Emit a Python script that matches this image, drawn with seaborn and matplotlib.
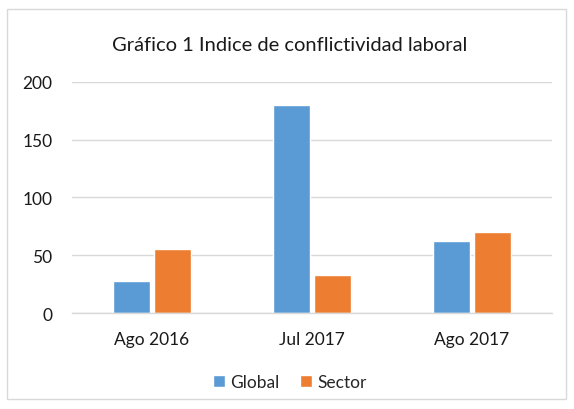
import pandas as pd
import matplotlib.pyplot as plt
import seaborn as sns
from matplotlib.patches import Rectangle

periods = ['Ago 2016', 'Jul 2017', 'Ago 2017']
global_vals = [28, 180, 62]
sector_vals = [55, 33, 70]
series = ['Global', 'Sector']
colors = ['#5B9BD5', '#ED7D31']

df = pd.DataFrame({
    'periodo': periods * 2,
    'serie': [series[0]] * 3 + [series[1]] * 3,
    'valor': global_vals + sector_vals,
})

sns.set_style('white')
plt.rcParams['font.family'] = ['Lato', 'DejaVu Sans']

fig = plt.figure(figsize=(5.74, 4.10), dpi=100)
ax = fig.add_axes([0.1254, 0.2341, 0.8362, 0.5641])

sns.barplot(data=df, x='periodo', y='valor', hue='serie', palette=colors,
            width=0.5125, gap=0.12, ax=ax, saturation=1)

ax.set_xlim(-0.5, 2.5)
ax.set_ylim(0, 200)
ax.set_yticks([0, 50, 100, 150, 200])
ax.yaxis.grid(True, color='#D9D9D9', linewidth=1)
ax.set_axisbelow(True)
for s in ['top', 'right', 'left']:
    ax.spines[s].set_visible(False)
ax.spines['bottom'].set_color('#D9D9D9')
ax.spines['bottom'].set_linewidth(1)
ax.set_xlabel('')
ax.set_ylabel('')
ax.tick_params(axis='y', length=0, pad=14, labelsize=12.5, labelcolor='#1a1a1a')
ax.tick_params(axis='x', length=0, pad=13, labelsize=12.5, labelcolor='#1a1a1a')

fig.text(0.505, 0.89, 'Gráfico 1 Indice de conflictividad laboral',
         ha='center', va='center', fontsize=14.5, color='#1a1a1a')

sns.move_legend(ax, 'center', bbox_to_anchor=(0.505, 0.066),
                bbox_transform=fig.transFigure, ncol=2, frameon=False,
                title=None, fontsize=12.5, handlelength=0.7, handleheight=0.7,
                columnspacing=1.2, handletextpad=0.3)

fig.patches.append(Rectangle((7 / 574, 10 / 410), 559 / 574, 390 / 410,
                             transform=fig.transFigure, fill=False,
                             edgecolor='#D9D9D9', linewidth=1))

plt.savefig('out.png', dpi=100)
